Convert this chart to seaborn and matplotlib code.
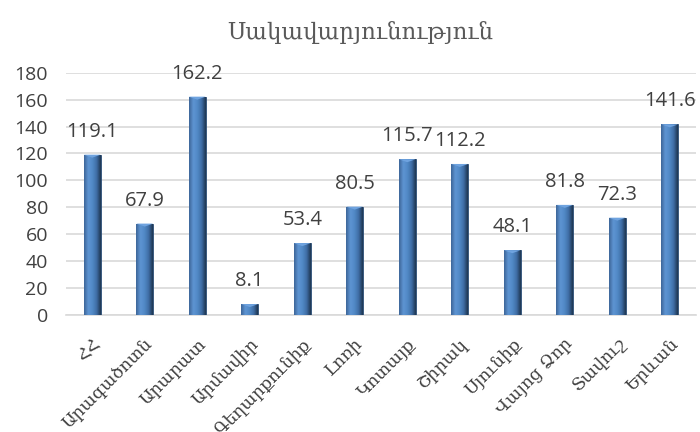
import numpy as np
import pandas as pd
import matplotlib
matplotlib.use("Agg")
import matplotlib.pyplot as plt
import matplotlib.transforms as mtransforms
from matplotlib.colors import LinearSegmentedColormap
import seaborn as sns

# data
regions = ["ՀՀ", "Արագածոտն", "Արարատ", "Արմավիր", "Գեղարքունիք", "Լոռի",
           "Կոտայք", "Շիրակ", "Սյունիք", "Վայոց Ձոր", "Տավուշ", "Երևան"]
values = [119.1, 67.9, 162.2, 8.1, 53.4, 80.5, 115.7, 112.2, 48.1, 81.8, 72.3, 141.6]
title = "Սակավարյունություն"
yticks = list(range(0, 181, 20))

df = pd.DataFrame({"region": regions, "value": values})

sns.set_theme(style="white")
plt.rcParams["font.family"] = ["DejaVu Sans"]

fig = plt.figure(figsize=(7, 4.32), dpi=100)
ax = fig.add_axes([66 / 700, 1 - 315 / 432, 630 / 700, 242.3 / 432])

sns.barplot(data=df, x="region", y="value", color="#4F81BD", width=0.32,
            edgecolor="#2A4A70", linewidth=0.6, saturation=1, ax=ax, zorder=3)

# bevel-like shading on each column
shade = LinearSegmentedColormap.from_list(
    "bev", ["#3D6597", "#5E95D3", "#5189C6", "#3F6EA6", "#1E3550"])
grad = np.linspace(0, 1, 64).reshape(1, -1)
for p in ax.patches:
    x0, y0 = p.get_x(), p.get_y()
    w, h = p.get_width(), p.get_height()
    im = ax.imshow(grad, cmap=shade, aspect="auto", zorder=4,
                   extent=[x0, x0 + w, y0, y0 + h], interpolation="bicubic")
    im.set_clip_path(p)
    # small light cap at the top
    ax.fill([x0, x0 + w, x0 + w / 2], [y0 + h, y0 + h, y0 + h - 2.2],
            color="#6FA3DF", zorder=5, lw=0)

ax.set_xlim(-0.5, len(regions) - 0.5)
ax.set_ylim(0, 180)
ax.set_yticks(yticks)
ax.set_yticklabels([str(t) for t in yticks], fontsize=14, color="#404040",
                   family="Open Sans")
ax.yaxis.grid(True, color="#D9D9D9", linewidth=1.2, zorder=0)
ax.set_axisbelow(True)
for s in ["top", "right", "left"]:
    ax.spines[s].set_visible(False)
ax.spines["bottom"].set_color("#D9D9D9")
ax.spines["bottom"].set_linewidth(1.2)
ax.tick_params(axis="y", length=0, pad=13)
ax.set_xlabel("")
ax.set_ylabel("")

ax.set_xticks(range(len(regions)))
ax.set_xticklabels(regions, rotation=45, ha="right", va="center",
                   rotation_mode="anchor", fontsize=12.5, color="#404040",
                   family="DejaVu Serif")
ax.tick_params(axis="x", length=0, width=0, pad=19)
shift = mtransforms.ScaledTranslation(4 / 72, 0, fig.dpi_scale_trans)
for lbl in ax.get_xticklabels():
    lbl.set_transform(lbl.get_transform() + shift)

for i, v in enumerate(values):
    ax.annotate(f"{v}", (i, v), xytext=(0, 16.5), textcoords="offset points",
                ha="center", va="center", fontsize=14.5, color="#404040",
                family="Open Sans", annotation_clip=False)

fig.text(360 / 700, 1 - 32 / 432, title, ha="center", va="center",
         fontsize=16.5, color="#595959", family="DejaVu Serif")

fig.savefig("out.png", dpi=100, facecolor="white")
